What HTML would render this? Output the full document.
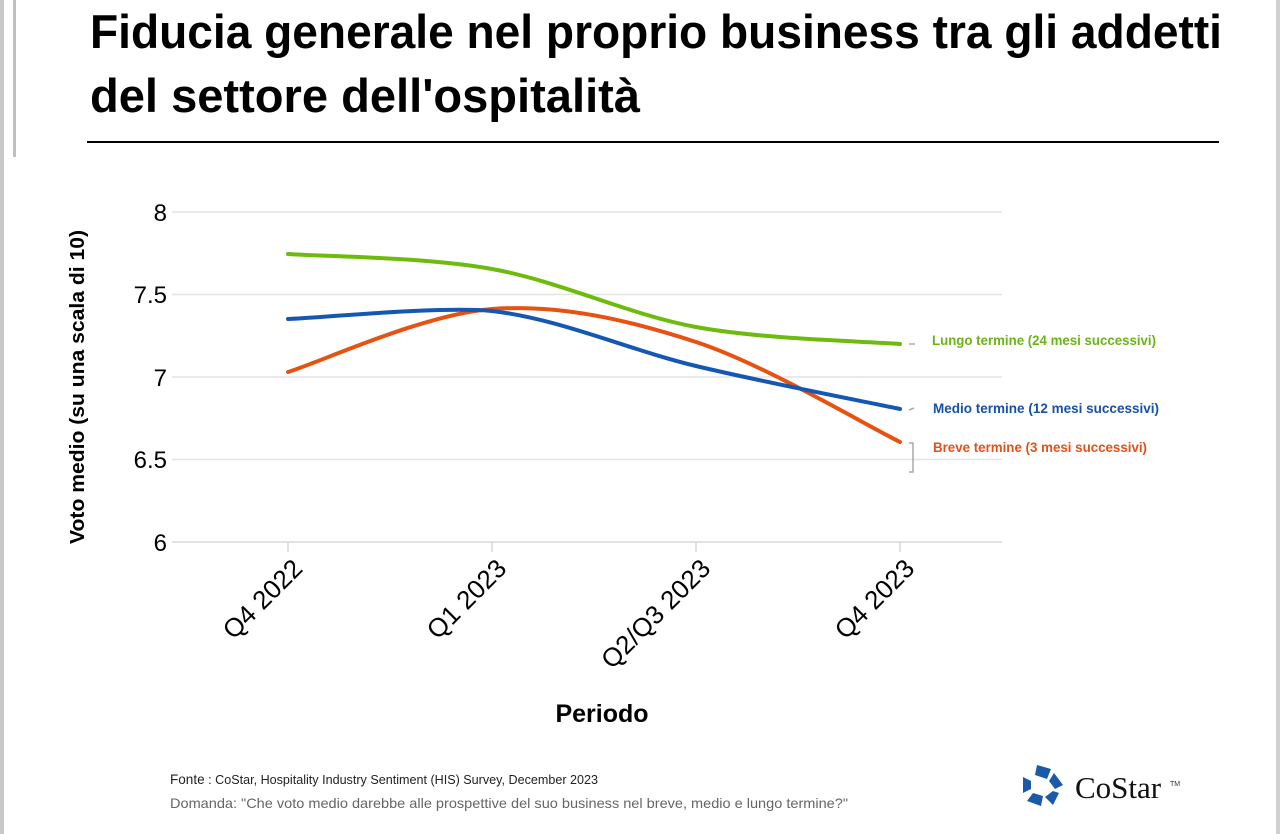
<!DOCTYPE html>
<html><head><meta charset="utf-8"><style>
html,body{margin:0;padding:0;background:#fff;}
svg{display:block;}
</style></head><body>
<svg width="1280" height="834" viewBox="0 0 1280 834" xmlns="http://www.w3.org/2000/svg" font-family="Liberation Sans, sans-serif">
<rect width="1280" height="834" fill="#fff"/>
<rect x="0" y="0" width="4" height="834" fill="#c8c8c8"/>
<rect x="13" y="0" width="3" height="157" fill="#c0c0c0"/>
<rect x="1276" y="0" width="4" height="834" fill="#d0d0d0"/>
<text x="90" y="48" font-size="47" font-weight="bold" fill="#000" textLength="1132" lengthAdjust="spacingAndGlyphs">Fiducia generale nel proprio business tra gli addetti</text>
<text x="90" y="112" font-size="47" font-weight="bold" fill="#000" textLength="550" lengthAdjust="spacingAndGlyphs">del settore dell'ospitalità</text>
<rect x="87" y="141" width="1132" height="2" fill="#000"/>
<g stroke="#e4e4e4" stroke-width="1.5">
<line x1="172" y1="212" x2="1002" y2="212"/>
<line x1="172" y1="294.5" x2="1002" y2="294.5"/>
<line x1="172" y1="377" x2="1002" y2="377"/>
<line x1="172" y1="459.5" x2="1002" y2="459.5"/>
</g>
<line x1="172" y1="542" x2="1002" y2="542" stroke="#d8d8d8" stroke-width="1.5"/>
<g stroke="#d8d8d8" stroke-width="1.5">
<line x1="288" y1="542" x2="288" y2="552"/><line x1="492" y1="542" x2="492" y2="552"/>
<line x1="696" y1="542" x2="696" y2="552"/><line x1="900" y1="542" x2="900" y2="552"/>
</g>
<g font-size="24" fill="#000" text-anchor="end">
<text x="167" y="221">8</text><text x="167" y="303">7.5</text><text x="167" y="386">7</text>
<text x="167" y="468">6.5</text><text x="167" y="551">6</text>
</g>
<g font-size="26" fill="#000" text-anchor="end">
<text transform="translate(304,570) rotate(-45)">Q4 2022</text>
<text transform="translate(508,570) rotate(-45)">Q1 2023</text>
<text transform="translate(712,570) rotate(-45)">Q2/Q3 2023</text>
<text transform="translate(916,570) rotate(-45)">Q4 2023</text>
</g>
<text transform="translate(84,387) rotate(-90)" font-size="20" font-weight="bold" text-anchor="middle" textLength="314" lengthAdjust="spacingAndGlyphs">Voto medio (su una scala di 10)</text>
<text x="602" y="722" font-size="25" font-weight="bold" text-anchor="middle">Periodo</text>
<g fill="none" stroke-width="4" stroke-linecap="round">
<path d="M288,254 C322,256.5 424,256.8 492,269 C560,281.2 628,314.5 696,327 C764,339.5 866,341.2 900,344" stroke="#6cbb0e"/>
<path d="M288,372 C322,361.5 424,314 492,309 C560,304 628,319.8 696,342 C764,364.2 866,425.3 900,442" stroke="#e8510f"/>
<path d="M288,319 C322,317.7 440,306 492,311 C560,318.8 628,349.7 696,366 C764,382.3 866,401.8 900,409" stroke="#1458b3"/>
</g>
<g stroke="#aaa" stroke-width="1.5" fill="none">
<line x1="909" y1="344" x2="915" y2="344"/>
<line x1="909" y1="410" x2="914" y2="408"/>
<path d="M909,443 L913,443 L913,472 L909,472"/>
</g>
<g font-size="14" font-weight="bold">
<text x="932" y="345" fill="#6cb31a" textLength="224" lengthAdjust="spacingAndGlyphs">Lungo termine (24 mesi successivi)</text>
<text x="933" y="413" fill="#1650ad" textLength="226" lengthAdjust="spacingAndGlyphs">Medio termine (12 mesi successivi)</text>
<text x="933" y="452" fill="#e0521a" textLength="214" lengthAdjust="spacingAndGlyphs">Breve termine (3 mesi successivi)</text>
</g>
<text x="170" y="784" font-size="13" fill="#222" textLength="428" lengthAdjust="spacingAndGlyphs"><tspan font-size="14">Fonte</tspan> : CoStar, Hospitality Industry Sentiment (HIS) Survey, December 2023</text>
<text x="170" y="808" font-size="14" fill="#666" textLength="678" lengthAdjust="spacingAndGlyphs">Domanda: "Che voto medio darebbe alle prospettive del suo business nel breve, medio e lungo termine?"</text>
<g fill="#1a5aa8" transform="translate(1043,785)">
<polygon points="-6,-20 8,-16 4,-6 -8,-10"/>
<polygon points="11,-12 20,0 12,4 6,-4"/>
<polygon points="16,8 10,20 2,12 10,6"/>
<polygon points="-2,21 -16,16 -10,8 0,11"/>
<polygon points="-20,8 -20,-8 -12,-4 -12,4"/>
</g>
<text x="1075" y="798" font-family="Liberation Serif, serif" font-size="31" fill="#111">CoStar</text>
<text x="1170" y="786" font-size="7" fill="#333">TM</text>
</svg>
</body></html>
